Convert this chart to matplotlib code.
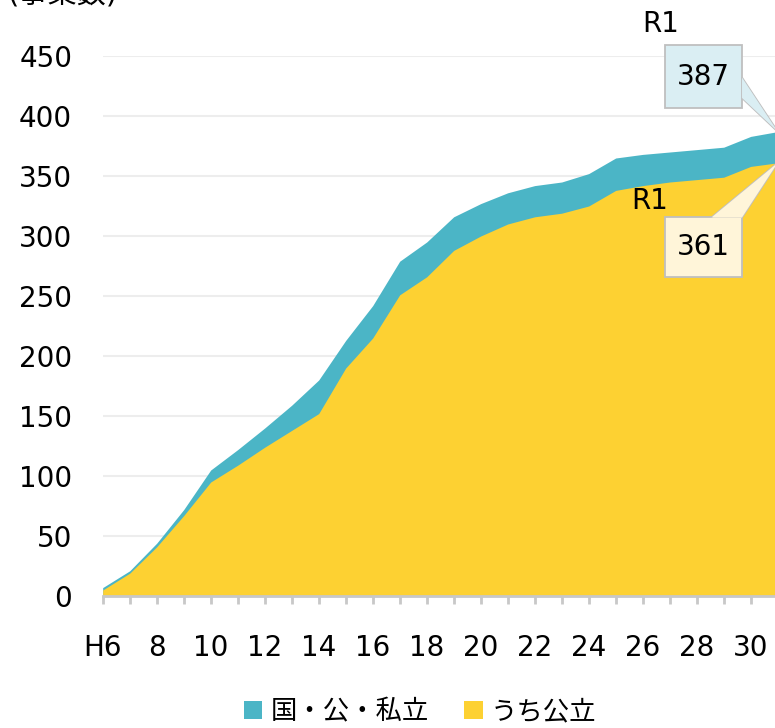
import matplotlib
matplotlib.use("Agg")
import matplotlib.pyplot as plt
from matplotlib.patches import Polygon
import numpy as np

plt.rcParams['font.family'] = ['DejaVu Sans', 'Noto Sans CJK JP']

years = ["H6", "7", "8", "9", "10", "11", "12", "13", "14", "15", "16", "17", "18",
         "19", "20", "21", "22", "23", "24", "25", "26", "27", "28", "29", "30", "R1"]
total = [7, 21, 44, 72, 105, 122, 140, 159, 180, 213, 242, 279, 295, 316, 327,
         336, 342, 345, 352, 365, 368, 370, 372, 374, 383, 387]
public = [5, 19, 41, 67, 95, 109, 124, 138, 152, 190, 215, 251, 266, 288, 300,
          310, 316, 319, 325, 338, 342, 345, 347, 349, 358, 361]
series_names = ["国・公・私立", "うち公立"]
yticks = [0, 50, 100, 150, 200, 250, 300, 350, 400, 450]

teal = "#4BB5C6"
yellow = "#FDD132"

W, H = 775, 728
fig = plt.figure(figsize=(W / 100, H / 100), dpi=100)
ax = fig.add_axes([102.7 / W, (H - 596) / H, 675 / W, 540 / H])

x = np.arange(len(years))
ax.fill_between(x, 0, total, color=teal, lw=0, zorder=2, label=series_names[0])
ax.fill_between(x, 0, public, color=yellow, lw=0, zorder=3, label=series_names[1])

ax.set_xlim(0, len(years) - 1)
ax.set_ylim(0, 450)
ax.set_yticks(yticks)
ax.grid(axis='y', color="#EDEDED", lw=1.5, zorder=0)
ax.set_axisbelow(True)

ax.set_xticks(x)
ax.set_xticklabels([lab if i % 2 == 0 and i < len(years) - 1 else "" for i, lab in enumerate(years)])
for s in ["top", "right", "left"]:
    ax.spines[s].set_visible(False)
ax.spines["bottom"].set_color("#C8C8C8")
ax.spines["bottom"].set_linewidth(2)
ax.spines["bottom"].set_zorder(5)
ax.tick_params(axis='x', length=6, width=2, color="#C8C8C8", pad=21, labelsize=20)
ax.tick_params(axis='y', length=0, pad=22, labelsize=20)

n = len(years) - 1
edge = "#BFBFBF"


def callout(x0, x1, y0, y1, wedge, apex, text, fc):
    box = Polygon([(x0, y0), (x1, y0), (x1, y1), (x0, y1)], closed=True,
                  fc=fc, ec=edge, lw=1.3, zorder=10, clip_on=False)
    ax.add_patch(box)
    tri = Polygon([wedge[0], apex, wedge[1]], closed=False, fc=fc, ec=edge,
                  lw=1.3, zorder=10, clip_on=False, joinstyle='miter')
    ax.add_patch(tri)
    tri2 = Polygon([wedge[0], apex, wedge[1]], closed=True, fc=fc, ec='none',
                   zorder=10.5, clip_on=False)
    ax.add_patch(tri2)
    ax.text((x0 + x1) / 2, (y0 + y1) / 2, text, ha='center', va='center',
            fontsize=20, zorder=11)


# total callout
callout(20.83, 23.68, 406.5, 459.0,
        [(23.68, 432.0), (23.68, 415.0)], (n, total[-1]), str(total[-1]), "#DAEEF3")
ax.text(20.68, 477, years[-1], ha='center', va='center', fontsize=20, clip_on=False)

# public callout
callout(20.83, 23.68, 265.5, 315.5,
        [(22.55, 315.5), (23.68, 315.5)], (n, public[-1]), str(public[-1]), "#FFF5D9")
ax.text(20.27, 329, years[-1], ha='center', va='center', fontsize=20, zorder=11)

# unit label (cut off at top)
fig.text(8 / W, 1 - 9 / H, "(事業数)", ha='left', va='bottom', fontsize=21)

# legend
fig.legend(loc='center', bbox_to_anchor=(420 / W, 1 - 712 / H), ncol=2, frameon=False,
           fontsize=19, handlelength=0.7, handleheight=0.7, handletextpad=0.3,
           columnspacing=1.35)

fig.savefig("out.png", dpi=100)
